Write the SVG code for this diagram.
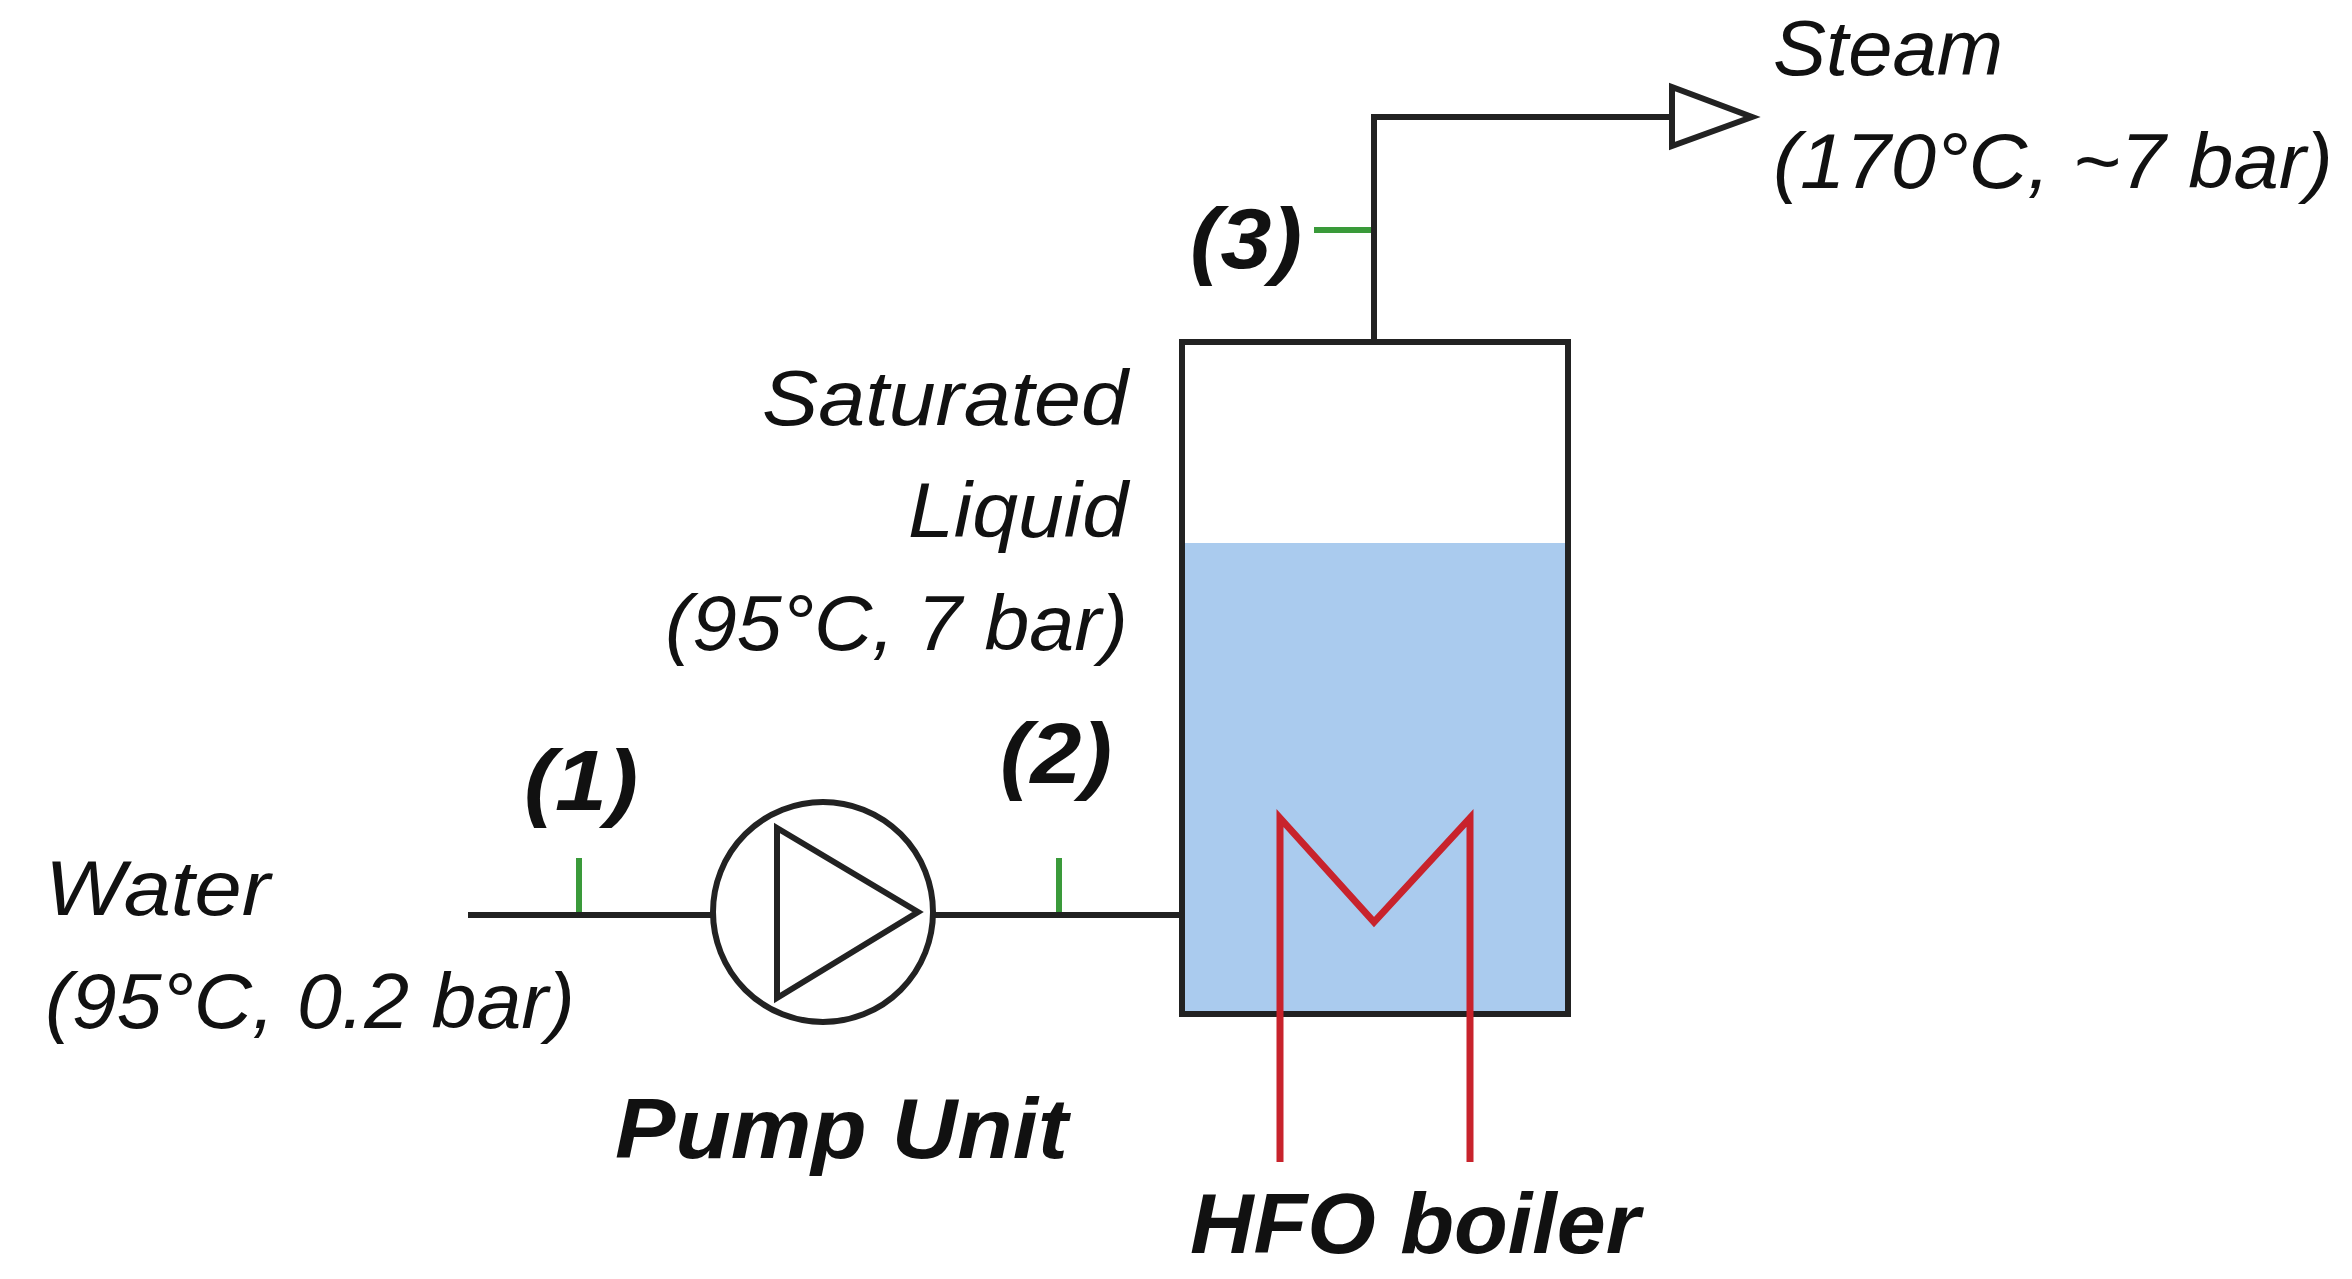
<svg xmlns="http://www.w3.org/2000/svg" width="2352" height="1279" viewBox="0 0 2352 1279">
<style>
.t{font-family:"Liberation Sans",Arial,sans-serif;font-style:italic;font-size:78px;fill:#111}
.b{font-weight:bold;font-size:86px}
.p{stroke:#222;stroke-width:6;fill:none}
.g{stroke:#3a9a3a;stroke-width:6}
.r{stroke:#c8232c;stroke-width:7;fill:none}
</style>
<rect width="2352" height="1279" fill="#fff"/>
<g id="connectors">
<line class="p" x1="468" y1="915" x2="712" y2="915"/>
<line class="p" x1="933" y1="915" x2="1182" y2="915"/>
<polyline class="p" points="1374,342 1374,117 1672,117"/>
<polygon class="p" points="1672,87 1752,117 1672,146"/>
<line class="g" x1="579" y1="858" x2="579" y2="912"/>
<line class="g" x1="1059" y1="858" x2="1059" y2="912"/>
<line class="g" x1="1314" y1="230" x2="1371" y2="230"/>
</g>
<g id="pump">
<circle class="p" cx="823" cy="912" r="110"/>
<polygon class="p" points="777,828 918,912 777,998"/>
</g>
<g id="tank">
<rect x="1182" y="543" width="386" height="471" fill="#aacbee"/>
<rect class="p" x="1182" y="342" width="386" height="672"/>
<polyline class="r" points="1280,1162 1280,818 1374,922 1470,818 1470,1162"/>
</g>
<g id="labels" lengthAdjust="spacingAndGlyphs">
<text class="t" x="1773" y="75" textLength="230" lengthAdjust="spacingAndGlyphs">Steam</text>
<text class="t" x="1773" y="188" textLength="560" lengthAdjust="spacingAndGlyphs">(170°C, ~7 bar)</text>
<text class="t b" x="1190" y="268" textLength="112" lengthAdjust="spacingAndGlyphs">(3)</text>
<text class="t" x="1128" y="425" text-anchor="end" textLength="366" lengthAdjust="spacingAndGlyphs">Saturated</text>
<text class="t" x="1128" y="537" text-anchor="end" textLength="220" lengthAdjust="spacingAndGlyphs">Liquid</text>
<text class="t" x="1128" y="650" text-anchor="end" textLength="463" lengthAdjust="spacingAndGlyphs">(95°C, 7 bar)</text>
<text class="t b" x="524" y="810" textLength="114" lengthAdjust="spacingAndGlyphs">(1)</text>
<text class="t b" x="1000" y="783" textLength="112" lengthAdjust="spacingAndGlyphs">(2)</text>
<text class="t" x="45" y="915" textLength="225" lengthAdjust="spacingAndGlyphs">Water</text>
<text class="t" x="45" y="1028" textLength="530" lengthAdjust="spacingAndGlyphs">(95°C, 0.2 bar)</text>
<text class="t b" x="615" y="1158" textLength="453" lengthAdjust="spacingAndGlyphs">Pump Unit</text>
<text class="t b" x="1190" y="1253" textLength="450" lengthAdjust="spacingAndGlyphs">HFO boiler</text>
</g>
</svg>
